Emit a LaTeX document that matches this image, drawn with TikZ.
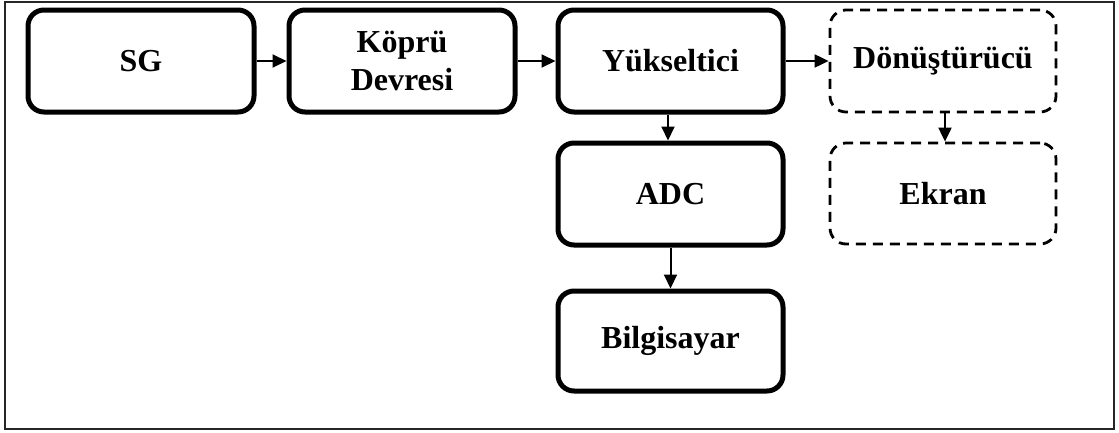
\documentclass[tikz,border=0pt]{standalone}
\usepackage{fontspec}
\setmainfont{Liberation Serif}
\usetikzlibrary{arrows.meta}
\begin{document}
\begin{tikzpicture}[x=1pt,y=-1pt,
  blk/.style={draw, line width=5pt, rounded corners=16pt, minimum width=226pt,
    minimum height=102pt, inner sep=0pt, align=center,
    font=\fontsize{32}{38}\selectfont\bfseries},
  dblk/.style={blk, line width=2.8pt, dash pattern=on 10pt off 7pt},
  arr/.style={line width=2pt, -{Triangle[length=14pt,width=13pt]}}]
\useasboundingbox (0,0) rectangle (1119,432);
\draw[line width=1.5pt, draw=black!85] (5,2) rectangle (1114,429);
\node[blk] (sg) at (141,61) {SG};
\node[blk] (kd) at (402,61) {Köprü\\Devresi};
\node[blk, minimum width=225pt] (yk) at (670.5,61) {Yükseltici};
\node[dblk] (dn) at (943,61) {Dönüştürücü};
\node[blk, minimum width=225pt] (adc) at (670.5,194) {ADC};
\node[dblk, minimum height=101pt] (ek) at (943,193.5) {Ekran};
\node[blk, minimum width=225pt, minimum height=100pt] (pc) at (670.5,341) {Bilgisayar};
\draw[arr] (sg) -- (kd);
\draw[arr] (kd) -- (yk);
\draw[arr] (yk) -- (dn);
\draw[arr] (yk.south -| 668,0) -- (adc.north -| 668,0);
\draw[arr] (dn.south -| 945,0) -- (ek.north -| 945,0);
\draw[arr] (adc) -- (pc);
\end{tikzpicture}
\end{document}
